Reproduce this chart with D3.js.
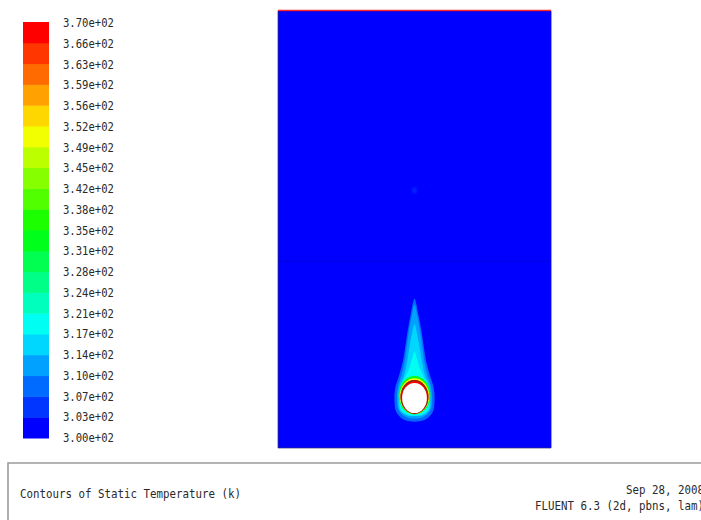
<!DOCTYPE html>
<html>
<head>
<meta charset="utf-8">
<script src="https://cdn.jsdelivr.net/npm/d3@7/dist/d3.min.js"></script>
<style>
  html, body { margin: 0; padding: 0; background: #fff; }
  svg { display: block; }
  text { font-family: "DejaVu Sans Mono", "Liberation Mono", monospace; fill: #2a2a2a; }
</style>
</head>
<body>
<svg id="chart" width="701" height="520"></svg>
<script>
// Temperature range (K) and the 21 colour-bar tick labels
const tMin = 300, tMax = 370, nBands = 20;
const tickLabels = ["3.70e+02","3.66e+02","3.63e+02","3.59e+02","3.56e+02","3.52e+02","3.49e+02",
  "3.45e+02","3.42e+02","3.38e+02","3.35e+02","3.31e+02","3.28e+02","3.24e+02","3.21e+02",
  "3.17e+02","3.14e+02","3.10e+02","3.07e+02","3.03e+02","3.00e+02"];

// Domain extent (cylinder radii) and ambient / wall temperatures
const domainX = [-11, 11];
const domainY = [0, 29];
const ambientT = 300;
const topWallT = 370;
const interfaceY = 12.4;

// Heated cylinder
const cylinder = { cx: 0, cy: 3.32, r: 1.0 };

// Plume contour outlines [x, y] with the temperature of each filled band (outer to inner)
const plumeContours = [
  { T: 307, pts: [[0,9.9],[0.3,8.9],[0.55,7.8],[0.75,6.7],[0.95,5.7],[1.25,4.8],[1.55,4.0],[1.62,3.2],[1.45,2.35],[0.8,1.85],[0,1.75],
                  [-0.8,1.85],[-1.45,2.35],[-1.62,3.2],[-1.55,4.0],[-1.25,4.8],[-0.95,5.7],[-0.75,6.7],[-0.55,7.8],[-0.3,8.9]] },
  { T: 312, pts: [[0,9.5],[0.22,8.8],[0.42,7.9],[0.6,6.9],[0.78,5.8],[1.02,4.9],[1.32,4.1],[1.42,3.3],[1.28,2.5],[0.7,2.05],[0,1.95],
                  [-0.7,2.05],[-1.28,2.5],[-1.42,3.3],[-1.32,4.1],[-1.02,4.9],[-0.78,5.8],[-0.6,6.9],[-0.42,7.9],[-0.22,8.8]] },
  { T: 316, pts: [[0,8.2],[0.25,7.4],[0.45,6.5],[0.62,5.6],[0.85,4.8],[1.2,4.1],[1.3,3.3],[1.18,2.5],[0.6,2.15],[0,2.1],
                  [-0.6,2.15],[-1.18,2.5],[-1.3,3.3],[-1.2,4.1],[-0.85,4.8],[-0.62,5.6],[-0.45,6.5],[-0.25,7.4]] },
  { T: 319, pts: [[0,6.4],[0.2,5.9],[0.42,5.3],[0.7,4.8],[1.0,4.3],[1.2,3.7],[1.22,3.0],[1.05,2.45],[0.5,2.2],[0,2.15],
                  [-0.5,2.2],[-1.05,2.45],[-1.22,3.0],[-1.2,3.7],[-1.0,4.3],[-0.7,4.8],[-0.42,5.3],[-0.2,5.9]] }
];

// Thin hot layers hugging the cylinder wall (outer to inner)
const wallLayers = [
  { T: 333, cx: 0, cy: 3.50, r: 1.28 },
  { T: 350, cx: 0, cy: 3.44, r: 1.19 },
  { T: 368, cx: 0, cy: 3.39, r: 1.12 }
];

// Small warm spot up in the domain
const spots = [ { T: 304, x: 0, y: 17.1 } ];

// ---------------------------------------------------------------
const svg = d3.select("#chart");

// Band colours: hue ramp blue -> cyan -> green -> yellow -> red
const bandColors = d3.range(nBands).map(i => d3.hsl(240 - 240 * i / (nBands - 1), 1, 0.5).toString());
const color = d3.scaleQuantize().domain([tMin, tMax]).range(bandColors);

// Colour bar
const barX = 23, barW = 26, barTop = 22, barBottom = 438;
const barScale = d3.scaleLinear().domain([tMin, tMax]).range([barBottom, barTop]);
const bandEdges = d3.range(nBands + 1).map(i => tMin + (tMax - tMin) * i / nBands);

svg.append("g").selectAll("rect")
  .data(d3.range(nBands))
  .join("rect")
  .attr("x", barX)
  .attr("width", barW)
  .attr("y", i => barScale(bandEdges[i + 1]))
  .attr("height", i => barScale(bandEdges[i]) - barScale(bandEdges[i + 1]) + 0.5)
  .attr("fill", i => bandColors[i]);

const labelScale = d3.scalePoint().domain(tickLabels).range([barTop + 1, barBottom]);
svg.append("g").selectAll("text")
  .data(tickLabels)
  .join("text")
  .attr("x", 63)
  .attr("y", d => labelScale(d))
  .attr("dy", "0.36em")
  .attr("font-size", 11.5)
  .attr("textLength", 51)
  .attr("lengthAdjust", "spacingAndGlyphs")
  .text(d => d);

// Flow domain
const x = d3.scaleLinear().domain(domainX).range([278, 551]);
const y = d3.scaleLinear().domain(domainY).range([448, 11]);

const defs = svg.append("defs");
defs.append("filter").attr("id", "soft").attr("x", "-50%").attr("y", "-50%").attr("width", "200%").attr("height", "200%")
  .append("feGaussianBlur").attr("stdDeviation", 0.7);
defs.append("filter").attr("id", "softer").attr("x", "-100%").attr("y", "-100%").attr("width", "300%").attr("height", "300%")
  .append("feGaussianBlur").attr("stdDeviation", 1.4);
defs.append("clipPath").attr("id", "domainClip").append("rect")
  .attr("x", x(domainX[0])).attr("y", y(domainY[1]))
  .attr("width", x(domainX[1]) - x(domainX[0])).attr("height", y(domainY[0]) - y(domainY[1]));

const field = svg.append("g").attr("clip-path", "url(#domainClip)");

field.append("rect")
  .attr("x", x(domainX[0])).attr("y", y(domainY[1]))
  .attr("width", x(domainX[1]) - x(domainX[0])).attr("height", y(domainY[0]) - y(domainY[1]))
  .attr("fill", color(ambientT));

// mesh interface line
field.append("line")
  .attr("x1", x(domainX[0])).attr("x2", x(domainX[1]))
  .attr("y1", y(interfaceY)).attr("y2", y(interfaceY))
  .attr("stroke", "rgba(0,0,110,0.22)").attr("stroke-width", 1);

field.append("g").attr("filter", "url(#softer)").selectAll("ellipse")
  .data(spots).join("ellipse")
  .attr("cx", d => x(d.x)).attr("cy", d => y(d.y))
  .attr("rx", 1.8).attr("ry", 3)
  .attr("fill", d => color(d.T));

const plumeLine = d3.line().x(d => x(d[0])).y(d => y(d[1])).curve(d3.curveCatmullRomClosed.alpha(0.5));

const plume = field.append("g").attr("filter", "url(#soft)");
plume.selectAll("path")
  .data(plumeContours)
  .join("path")
  .attr("d", d => plumeLine(d.pts))
  .attr("fill", d => color(d.T));

plume.selectAll("ellipse.layer")
  .data(wallLayers)
  .join("ellipse")
  .attr("class", "layer")
  .attr("cx", d => x(d.cx)).attr("cy", d => y(d.cy))
  .attr("rx", d => x(d.r) - x(0)).attr("ry", d => y(0) - y(d.r))
  .attr("fill", d => color(d.T));

// dark edge of the hottest layer
plume.append("ellipse")
  .attr("cx", x(wallLayers[2].cx)).attr("cy", y(wallLayers[2].cy))
  .attr("rx", x(wallLayers[2].r) - x(0) - 0.6).attr("ry", y(0) - y(wallLayers[2].r) - 0.6)
  .attr("fill", "none").attr("stroke", "#8a2a12").attr("stroke-width", 1.4);

// cylinder (solid, not meshed)
field.append("ellipse")
  .attr("cx", x(cylinder.cx)).attr("cy", y(cylinder.cy))
  .attr("rx", x(cylinder.r) - x(0)).attr("ry", y(0) - y(cylinder.r))
  .attr("fill", "#ffffff");

// heated top wall
svg.append("line")
  .attr("x1", x(domainX[0])).attr("x2", x(domainX[1]))
  .attr("y1", y(domainY[1]) - 0.5).attr("y2", y(domainY[1]) - 0.5)
  .attr("stroke", color(topWallT)).attr("stroke-width", 1.5).attr("opacity", 0.85);

// domain outline
svg.append("path")
  .attr("d", `M${x(domainX[0])},${y(domainY[1])}V${y(domainY[0])}H${x(domainX[1])}`)
  .attr("fill", "none").attr("stroke", "#30306a").attr("stroke-width", 1).attr("opacity", 0.7);
svg.append("line")
  .attr("x1", x(domainX[1]) + 0.5).attr("x2", x(domainX[1]) + 0.5)
  .attr("y1", y(domainY[1])).attr("y2", y(domainY[0]))
  .attr("stroke", "#9a9ad8").attr("stroke-width", 1);

// Caption box
svg.append("path")
  .attr("d", "M8,520V463H701")
  .attr("fill", "none").attr("stroke", "#9a9a9a").attr("stroke-width", 1.6);

svg.append("text")
  .attr("x", 20).attr("y", 494).attr("dy", "0.36em")
  .attr("font-size", 11.5)
  .attr("textLength", 221).attr("lengthAdjust", "spacingAndGlyphs")
  .text("Contours of Static Temperature (k)");

// Right-hand caption lines run off the edge of the window
const rightLines = [
  { text: "Sep 28, 2008", y: 490 },
  { text: "FLUENT 6.3 (2d, pbns, lam)", y: 506 }
];
svg.append("g").selectAll("text")
  .data(rightLines).join("text")
  .attr("x", d => 704 - d.text.length * 6.5)
  .attr("y", d => d.y).attr("dy", "0.36em")
  .attr("font-size", 11.5)
  .attr("textLength", d => d.text.length * 6.5).attr("lengthAdjust", "spacingAndGlyphs")
  .text(d => d.text);
</script>
</body>
</html>
